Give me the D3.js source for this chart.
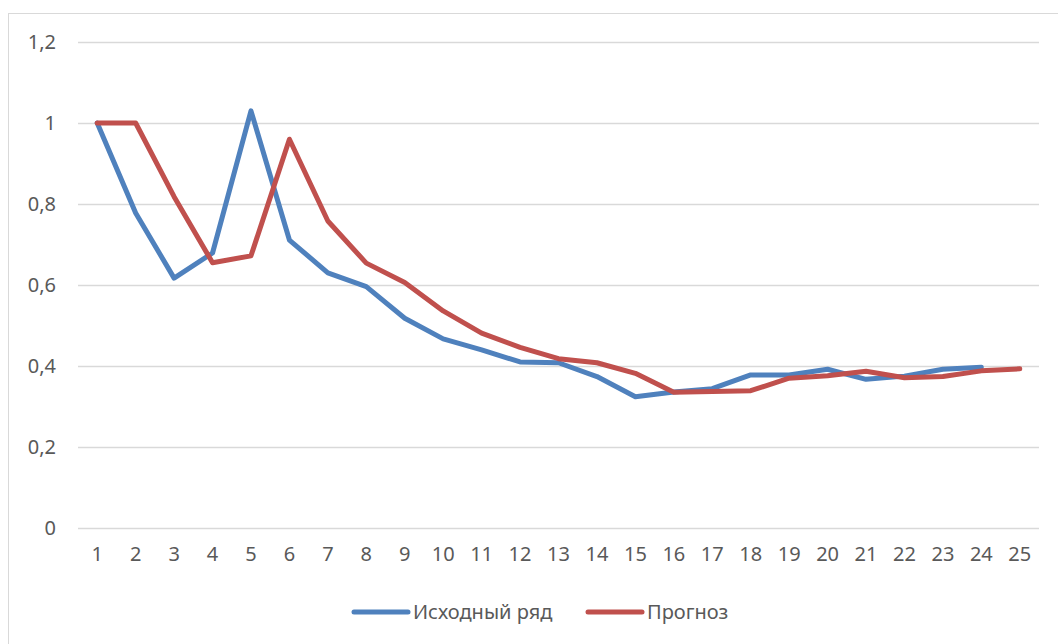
<!DOCTYPE html>
<html>
<head>
<meta charset="utf-8">
<script src="https://cdn.jsdelivr.net/npm/d3@7"></script>
<style>
  html, body { margin: 0; padding: 0; background: #fff; }
  svg { display: block; }
</style>
</head>
<body>
<svg id="chart" width="1058" height="644"></svg>
<script>
// Chart data
const categories = d3.range(1, 26).map(String);
const original = [1.0, 0.778, 0.617, 0.679, 1.030, 0.711, 0.630, 0.596, 0.518, 0.467,
  0.440, 0.410, 0.408, 0.374, 0.324, 0.336, 0.344, 0.378, 0.378, 0.392,
  0.367, 0.375, 0.392, 0.397, null];
const forecast = [1.0, 1.0, 0.818, 0.655, 0.672, 0.960, 0.758, 0.654, 0.606, 0.536,
  0.481, 0.446, 0.418, 0.408, 0.382, 0.335, 0.337, 0.339, 0.370, 0.376,
  0.387, 0.371, 0.374, 0.388, 0.393];
const yTicks = [0, 0.2, 0.4, 0.6, 0.8, 1, 1.2];

const series = [
  { name: 'Исходный ряд', values: original, color: '#4f81bd' },
  { name: 'Прогноз', values: forecast, color: '#c0504d' }
];

const svg = d3.select('#chart');
const font = '"Noto Sans", sans-serif';
const fontSize = '20px';
const textColor = '#595959';
const plot = { left: 78, right: 1039, top: 42, bottom: 528 };

// outer chart frame (cropped on right and bottom)
svg.append('rect')
  .attr('x', 8.5).attr('y', 13.5)
  .attr('width', 1100).attr('height', 700)
  .attr('fill', '#fff')
  .attr('stroke', '#d9d9d9').attr('stroke-width', 1);

const x = d3.scaleBand().domain(categories).range([plot.left, plot.right]);
const y = d3.scaleLinear().domain([0, 1.2]).range([plot.bottom, plot.top]);

// gridlines and y labels
const yAxis = d3.axisLeft(y)
  .tickValues(yTicks)
  .tickSize(-(plot.right - plot.left))
  .tickPadding(22)
  .tickFormat(d => String(d).replace('.', ','));

const gy = svg.append('g')
  .attr('transform', `translate(${plot.left},0)`)
  .call(yAxis);
gy.select('.domain').remove();
gy.selectAll('.tick line').attr('stroke', '#d9d9d9').attr('stroke-width', 1.5);
gy.selectAll('.tick text')
  .attr('fill', textColor)
  .style('font-family', font)
  .style('font-size', fontSize);

// x labels
const xAxis = d3.axisBottom(x).tickSize(0).tickPadding(19);
const gx = svg.append('g')
  .attr('transform', `translate(0,${plot.bottom})`)
  .call(xAxis);
gx.select('.domain').remove();
gx.selectAll('.tick text')
  .attr('fill', textColor)
  .style('font-family', font)
  .style('font-size', fontSize);

// lines
const line = d3.line()
  .defined(d => d.v !== null)
  .x(d => x(d.c) + x.bandwidth() / 2)
  .y(d => y(d.v));

series.forEach(s => {
  svg.append('path')
    .datum(categories.map((c, i) => ({ c, v: s.values[i] })))
    .attr('d', line)
    .attr('fill', 'none')
    .attr('stroke', s.color)
    .attr('stroke-width', 5)
    .attr('stroke-linejoin', 'round')
    .attr('stroke-linecap', 'round');
});

// legend
const legendX = [354, 588];
const legend = svg.append('g');
series.forEach((s, i) => {
  const g = legend.append('g').attr('transform', `translate(${legendX[i]},612)`);
  g.append('line')
    .attr('x1', 0).attr('x2', 54)
    .attr('stroke', s.color)
    .attr('stroke-width', 5)
    .attr('stroke-linecap', 'round');
  g.append('text')
    .attr('x', 59).attr('y', 7)
    .attr('fill', textColor)
    .style('font-family', font)
    .style('font-size', fontSize)
    .text(s.name);
});
</script>
</body>
</html>
